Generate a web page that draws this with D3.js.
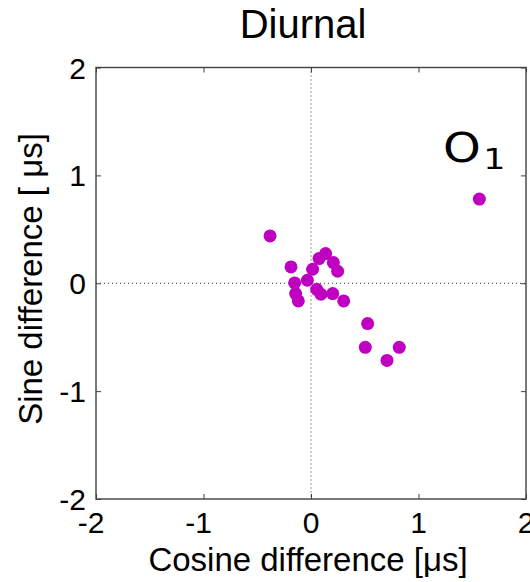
<!DOCTYPE html>
<html><head><meta charset="utf-8">
<script src="https://cdn.jsdelivr.net/npm/d3@7"></script>
<style>body{margin:0;background:#fff}svg{display:block}</style>
</head><body>
<svg id="c" width="530" height="582"></svg>
<script>
const cosDiff = [-0.381,-0.186,0.015,0.075,0.136,0.208,0.248,-0.152,-0.143,-0.118,-0.034,0.053,0.093,0.202,0.304,0.527,0.505,0.821,0.707,1.566];
const sinDiff = [0.439,0.151,0.130,0.229,0.275,0.192,0.111,0.003,-0.096,-0.164,0.028,-0.056,-0.102,-0.096,-0.164,-0.374,-0.594,-0.594,-0.715,0.780];
const xTicks = [-2,-1,0,1,2];
const yTicks = [-2,-1,0,1,2];
const titleText = "Diurnal";
const xLabel = "Cosine difference [\u03bcs]";
const yLabel = "Sine difference [ \u03bcs]";

const svg = d3.select("#c");
const L=96,R=526,T=67.5,B=499;
const x = d3.scaleLinear().domain([-2,2]).range([L,R]);
const y = d3.scaleLinear().domain([-2,2]).range([B,T]);
const axCol="#404040", fs=30, font="Liberation Sans, Arial, sans-serif";

// zero dotted lines
svg.append("line").attr("x1",x(0)).attr("x2",x(0)).attr("y1",T).attr("y2",B)
  .attr("stroke","#333").attr("stroke-width",1).attr("stroke-dasharray","1,3");
svg.append("line").attr("x1",L).attr("x2",R).attr("y1",y(0)).attr("y2",y(0))
  .attr("stroke","#333").attr("stroke-width",1).attr("stroke-dasharray","1,3");

// box
svg.append("rect").attr("x",L).attr("y",T).attr("width",R-L).attr("height",B-T)
  .attr("fill","none").attr("stroke",axCol).attr("stroke-width",1.4);

// ticks via axes (inner)
const tl=5;
svg.append("g").attr("transform",`translate(0,${B})`)
  .call(d3.axisTop(x).tickValues(xTicks).tickSize(tl).tickFormat(""))
  .call(g=>{g.select(".domain").remove();g.selectAll("line").attr("stroke",axCol);});
svg.append("g").attr("transform",`translate(0,${T})`)
  .call(d3.axisBottom(x).tickValues(xTicks).tickSize(tl).tickFormat(""))
  .call(g=>{g.select(".domain").remove();g.selectAll("line").attr("stroke",axCol);});
svg.append("g").attr("transform",`translate(${L},0)`)
  .call(d3.axisRight(y).tickValues(yTicks).tickSize(tl).tickFormat(""))
  .call(g=>{g.select(".domain").remove();g.selectAll("line").attr("stroke",axCol);});
svg.append("g").attr("transform",`translate(${R},0)`)
  .call(d3.axisLeft(y).tickValues(yTicks).tickSize(tl).tickFormat(""))
  .call(g=>{g.select(".domain").remove();g.selectAll("line").attr("stroke",axCol);});

// x tick labels (digit centred on tick, minus hangs left)
svg.append("g").selectAll("text").data(xTicks).join("text")
  .attr("x",d=>x(d)+0.278*fs).attr("y",533)
  .attr("text-anchor","end").attr("font-family",font).attr("font-size",fs)
  .attr("fill","#000").text(d=>d);
// y tick labels
svg.append("g").selectAll("text").data(yTicks).join("text")
  .attr("x",86).attr("y",d=>y(d)+11)
  .attr("text-anchor","end").attr("font-family",font).attr("font-size",fs)
  .attr("fill","#000").text(d=>d);

// title
svg.append("text").attr("x",303).attr("y",38).attr("text-anchor","middle")
  .attr("font-family",font).attr("font-size",40).text(titleText);
// x label
svg.append("text").attr("x",308).attr("y",571).attr("text-anchor","middle")
  .attr("font-family",font).attr("font-size",33).text(xLabel);
// y label
svg.append("text").attr("transform","translate(42,279) rotate(-90)").attr("text-anchor","middle")
  .attr("font-family",font).attr("font-size",33).text(yLabel);

// points
svg.append("g").selectAll("circle").data(cosDiff.map((c,i)=>[c,sinDiff[i]])).join("circle")
  .attr("cx",d=>x(d[0])).attr("cy",d=>y(d[1])).attr("r",6.5).attr("fill","#c000c0");

// O1 annotation
const ann = svg.append("text").attr("font-family","DejaVu Sans, sans-serif").attr("fill","#000")
  .attr("transform","translate(443,162) scale(1.2,1)");
ann.append("tspan").attr("font-size",40).text("O");
ann.append("tspan").attr("font-size",29).attr("dy",7).attr("dx",2).text("1");
</script>
</body></html>
